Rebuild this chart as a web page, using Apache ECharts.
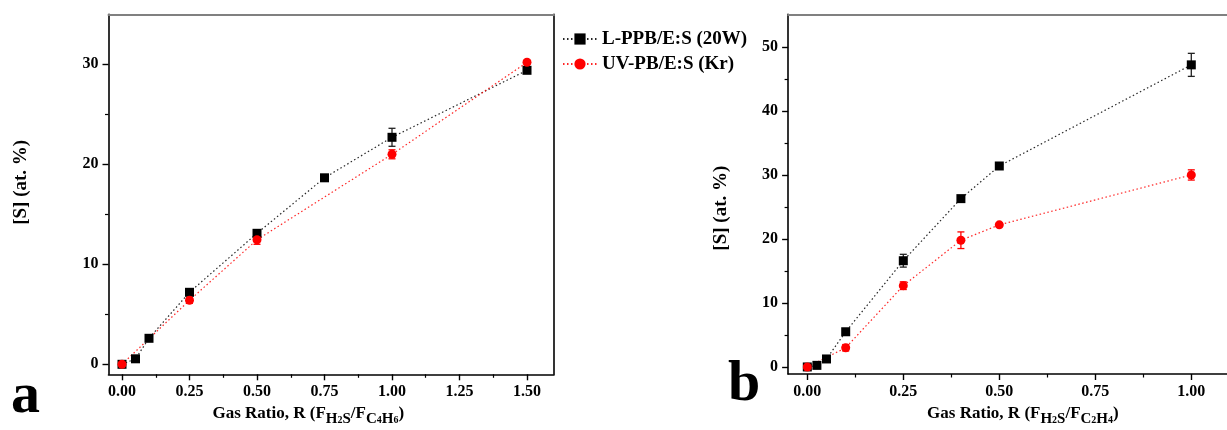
<!DOCTYPE html>
<html>
<head>
<meta charset="utf-8">
<script src="https://cdn.jsdelivr.net/npm/echarts@6/dist/echarts.min.js"></script>
<style>
html,body{margin:0;padding:0;background:#fff;}
#c{width:1227px;height:430px;}
</style>
</head>
<body>
<div id="c"></div>
<script>
// ---------- data: panel a (C4H6) ----------
const aBlackX = [0, 0.05, 0.1, 0.25, 0.5, 0.75, 1.0, 1.5];
const aBlackY = [0, 0.55, 2.6, 7.2, 13.1, 18.65, 22.7, 29.4];
const aBlackErr = [0, 0, 0, 0.3, 0.3, 0.2, 0.9, 0.3];
const aRedX = [0, 0.25, 0.5, 1.0, 1.5];
const aRedY = [0, 6.4, 12.45, 21.0, 30.2];
const aRedErr = [0, 0.3, 0.45, 0.45, 0.2];
// ---------- data: panel b (C2H4) ----------
const bBlackX = [0, 0.025, 0.05, 0.1, 0.25, 0.4, 0.5, 1.0];
const bBlackY = [0, 0.25, 1.25, 5.5, 16.6, 26.3, 31.4, 47.2];
const bBlackErr = [0, 0, 0, 0.3, 1.0, 0.3, 0.4, 1.8];
const bRedX = [0, 0.1, 0.25, 0.4, 0.5, 1.0];
const bRedY = [0, 3.0, 12.7, 19.8, 22.2, 30.0];
const bRedErr = [0.2, 0.5, 0.6, 1.3, 0.3, 0.8];
// ---------- ticks ----------
const aXMajor = [0, 0.25, 0.5, 0.75, 1.0, 1.25, 1.5];
const aXMinor = [0.125, 0.375, 0.625, 0.875, 1.125, 1.375];
const aYMajor = [0, 10, 20, 30];
const aYMinor = [5, 15, 25];
const bXMajor = [0, 0.25, 0.5, 0.75, 1.0];
const bXMinor = [0.125, 0.375, 0.625, 0.875];
const bYMajor = [0, 10, 20, 30, 40, 50];
const bYMinor = [5, 15, 25, 35, 45];
const seriesNames = ['L-PPB/E:S (20W)', 'UV-PB/E:S (Kr)'];

const FONT = '"Liberation Serif","Times New Roman",serif';
const BLACK = '#000000', RED = '#ff0000';

function pairs(xs, ys){ return xs.map((x,i)=>[x, ys[i]]); }
function triples(xs, ys, es){ return xs.map((x,i)=>[x, ys[i], es[i]]); }

function mainX(grid, min, max, major, name, pad){
  return {
    type:'value', gridIndex:grid, min:min, max:max, position:'bottom',
    axisLine:{show:true, onZero:false, lineStyle:{color:'#000', width:1.6}},
    axisTick:{show:true, customValues:major, length:6, inside:false, lineStyle:{color:'#000', width:1.4}},
    axisLabel:{show:true, customValues:major, margin:10, formatter:v=>v.toFixed(2),
      fontFamily:FONT, fontWeight:'bold', fontSize:16, color:'#000'},
    splitLine:{show:false},
    name:name, nameLocation:'middle', nameGap:26,
    nameTextStyle:{fontFamily:FONT, fontWeight:'bold', fontSize:17, color:'#000', padding:pad,
      rich:{
        m:{fontFamily:FONT, fontWeight:'bold', fontSize:17, color:'#000'},
        s:{fontFamily:FONT, fontWeight:'bold', fontSize:15, color:'#000', padding:[11,0,0,0]},
        ss:{fontFamily:FONT, fontWeight:'bold', fontSize:10, color:'#000', padding:[14,0,0,0]}
      }}
  };
}
function minorX(grid, min, max, minor){
  return {
    type:'value', gridIndex:grid, min:min, max:max, position:'bottom',
    axisLine:{show:false, onZero:false},
    axisTick:{show:true, customValues:minor, length:3.5, lineStyle:{color:'#000', width:1.2}},
    axisLabel:{show:false}, splitLine:{show:false}
  };
}
function topX(grid, min, max){
  return {
    type:'value', gridIndex:grid, min:min, max:max, position:'top',
    axisLine:{show:true, onZero:false, lineStyle:{color:'#808080', width:2}},
    axisTick:{show:false}, axisLabel:{show:false}, splitLine:{show:false}
  };
}
function mainY(grid, min, max, major, gap, pad){
  return {
    type:'value', gridIndex:grid, min:min, max:max, position:'left',
    axisLine:{show:true, onZero:false, lineStyle:{color:'#000', width:1.6}},
    axisTick:{show:true, customValues:major, length:6, lineStyle:{color:'#000', width:1.4}},
    axisLabel:{show:true, customValues:major, margin:10,
      fontFamily:FONT, fontWeight:'bold', fontSize:16, color:'#000'},
    splitLine:{show:false},
    name:'[S] (at. %)', nameLocation:'middle', nameGap:gap, nameRotate:90,
    nameTextStyle:{fontFamily:FONT, fontWeight:'bold', fontSize:19, color:'#000', padding:pad}
  };
}
function minorY(grid, min, max, minor){
  return {
    type:'value', gridIndex:grid, min:min, max:max, position:'left',
    axisLine:{show:false, onZero:false},
    axisTick:{show:true, customValues:minor, length:3.5, lineStyle:{color:'#000', width:1.2}},
    axisLabel:{show:false}, splitLine:{show:false}
  };
}

function lineSeries(name, xi, yi, data, color, symbol, size){
  return {
    type:'line', name:name, xAxisIndex:xi, yAxisIndex:yi, data:data,
    symbol:symbol, symbolSize:size, showSymbol:true, z:5,
    itemStyle:{color:color, opacity:1},
    lineStyle:{color:color, width:1.2, type:[1.5,2.5], opacity:0.85},
    emphasis:{disabled:true}, animation:false
  };
}
function errSeries(xi, yi, data, color){
  return {
    type:'custom', xAxisIndex:xi, yAxisIndex:yi, data:data, z:3, animation:false,
    silent:true,
    renderItem:function(params, api){
      const x = api.value(0), y = api.value(1), e = api.value(2);
      if (!e) return null;
      const t = api.coord([x, y+e]), b = api.coord([x, y-e]);
      const hw = 3.5, st = {stroke:color, lineWidth:1.3};
      return {type:'group', children:[
        {type:'line', shape:{x1:t[0], y1:t[1], x2:b[0], y2:b[1]}, style:st},
        {type:'line', shape:{x1:t[0]-hw, y1:t[1], x2:t[0]+hw, y2:t[1]}, style:st},
        {type:'line', shape:{x1:b[0]-hw, y1:b[1], x2:b[0]+hw, y2:b[1]}, style:st}
      ]};
    }
  };
}

const chart = echarts.init(document.getElementById('c'), null, {renderer:'canvas'});
const option = {
  backgroundColor:'#ffffff',
  animation:false,
  grid:[
    {left:108.5, top:14.3, width:445.5, height:360, show:false, containLabel:false, outerBoundsMode:'none'},
    {left:788.1, top:14.3, width:441.6, height:359.7, show:false, containLabel:false, outerBoundsMode:'none'}
  ],
  legend:{
    left:562, top:29.5, orient:'vertical', itemWidth:34, itemHeight:14, itemGap:6, padding:0,
    data:seriesNames,
    textStyle:{fontFamily:FONT, fontWeight:'bold', fontSize:19, color:'#000'},
    selectedMode:false
  },
  xAxis:[
    mainX(0, -0.05, 1.6, aXMajor, '{m|Gas Ratio, R (F}{s|H}{ss|2}{s|S}{m|/F}{s|C}{ss|4}{s|H}{ss|6}{m|)}', [0,46,0,0]),
    minorX(0, -0.05, 1.6, aXMinor),
    topX(0, -0.05, 1.6),
    mainX(1, -0.05, 1.1, bXMajor, '{m|Gas Ratio, R (F}{s|H}{ss|2}{s|S}{m|/F}{s|C}{ss|2}{s|H}{ss|4}{m|)}', [0,0,0,28]),
    minorX(1, -0.05, 1.1, bXMinor),
    topX(1, -0.05, 1.1)
  ],
  yAxis:[
    mainY(0, -1, 35, aYMajor, 78, [0,0,0,24]),
    minorY(0, -1, 35, aYMinor),
    {type:'value', gridIndex:0, min:-1, max:35, position:'right',
      axisLine:{show:true, onZero:false, lineStyle:{color:'#000', width:1.6}},
      axisTick:{show:false}, axisLabel:{show:false}, splitLine:{show:false}},
    mainY(1, -1.1, 55.1, bYMajor, 58, [0,28,0,0]),
    minorY(1, -1.1, 55.1, bYMinor)
  ],
  series:[
    errSeries(0, 0, triples(aBlackX, aBlackY, aBlackErr), '#222'),
    errSeries(0, 0, triples(aRedX, aRedY, aRedErr), RED),
    lineSeries(seriesNames[0], 0, 0, pairs(aBlackX, aBlackY), BLACK, 'rect', 9),
    lineSeries(seriesNames[1], 0, 0, pairs(aRedX, aRedY), RED, 'circle', 9),
    errSeries(3, 3, triples(bBlackX, bBlackY, bBlackErr), '#222'),
    errSeries(3, 3, triples(bRedX, bRedY, bRedErr), RED),
    lineSeries(seriesNames[0], 3, 3, pairs(bBlackX, bBlackY), BLACK, 'rect', 9),
    lineSeries(seriesNames[1], 3, 3, pairs(bRedX, bRedY), RED, 'circle', 9)
  ],
  graphic:[
    {type:'text', left:11, top:368, style:{text:'a', fontFamily:FONT, fontWeight:'bold', fontSize:58, fill:'#000'}},
    {type:'text', left:728, top:356, style:{text:'b', fontFamily:FONT, fontWeight:'bold', fontSize:58, fill:'#000'}}
  ]
};
chart.setOption(option);
</script>
</body>
</html>
